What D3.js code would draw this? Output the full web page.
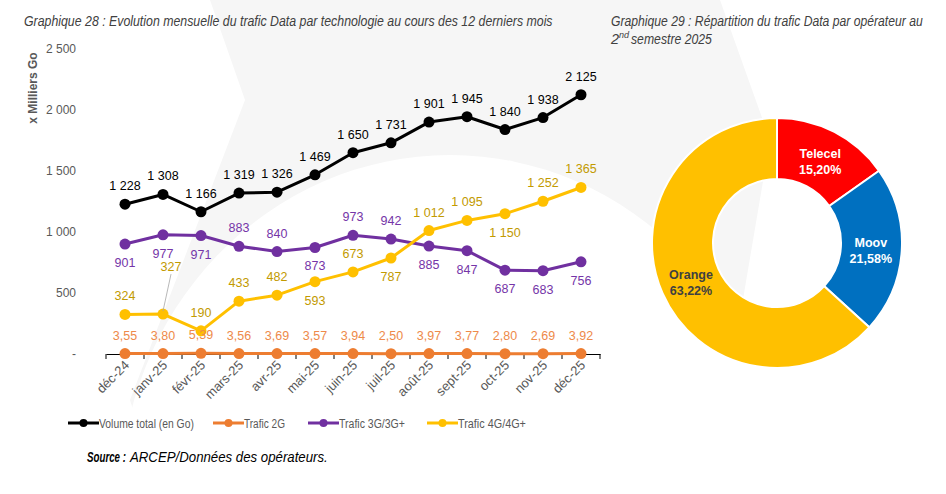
<!DOCTYPE html>
<html>
<head>
<meta charset="utf-8">
<script src="https://cdn.jsdelivr.net/npm/d3@7"></script>
<style>
  body { margin: 0; background: #fff; }
  svg { display: block; font-family: "Liberation Sans", Arial, sans-serif; }
</style>
</head>
<body>
<svg id="chart" width="946" height="494"></svg>
<script>
// data
var months = ["déc-24","janv-25","févr-25","mars-25","avr-25","mai-25","juin-25","juil-25","août-25","sept-25","oct-25","nov-25","déc-25"];
var volumeTotal = [1228,1308,1166,1319,1326,1469,1650,1731,1901,1945,1840,1938,2125];
var trafic2G = [3.55,3.80,5.39,3.56,3.69,3.57,3.94,2.50,3.97,3.77,2.80,2.69,3.92];
var trafic3G = [901,977,971,883,840,873,973,942,885,847,687,683,756];
var trafic4G = [324,327,190,433,482,593,673,787,1012,1095,1150,1252,1365];
var yTicks = [0,500,1000,1500,2000,2500];

// label side: 1 = above, -1 = below
var side3G = [-1,-1,-1,1,1,-1,1,1,-1,-1,-1,-1,-1];
var side4G = [1,1,1,1,1,-1,1,-1,1,1,-1,1,1];

var operators = ["Telecel","Moov","Orange"];
var shares = [15.20,21.58,63.22];

var svg = d3.select("#chart");

// the original uses a narrow font: squeeze a text horizontally to a given width
function squeeze(sel, w) {
    sel.each(function(d) {
        var width = typeof w === "function" ? w(d) : w;
        var k = width / this.getComputedTextLength();
        var tx = +this.getAttribute("x"), ty = +this.getAttribute("y");
        this.setAttribute("x", 0);
        this.setAttribute("y", 0);
        this.setAttribute("transform", "translate(" + tx + "," + ty + ") scale(" + k + ",1)");
    });
}

// faint background watermark
svg.append("path")
    .attr("d", "M210,0 L720,0 L770,140 L710,494 L160,494 L130,400 L245,100 Z")
    .attr("fill", "#f6f6f6");
svg.append("ellipse")
    .attr("cx", 450).attr("cy", 500).attr("rx", 330).attr("ry", 345)
    .attr("fill", "#fff");

// titles
var t1 = svg.append("text")
    .attr("x", 24).attr("y", 26)
    .attr("font-size", 14.5).attr("font-style", "italic").attr("fill", "#404040")
    .text("Graphique 28 : Evolution mensuelle du trafic Data par technologie au cours des 12 derniers mois");
squeeze(t1, 529);

var t2 = svg.append("g").attr("font-style", "italic").attr("fill", "#404040").attr("font-size", 14.5);
squeeze(t2.append("text").attr("x", 611).attr("y", 26)
    .text("Graphique 29 : Répartition du trafic Data par opérateur au"), 312);
t2.append("text").attr("x", 611).attr("y", 44).text("2");
t2.append("text").attr("x", 619).attr("y", 38).attr("font-size", 9).text("nd");
squeeze(t2.append("text").attr("x", 631).attr("y", 44).text("semestre 2025"), 81);

// scales
var x = d3.scaleBand().domain(months).range([106, 600]);
var y = d3.scaleLinear().domain([0, 2500]).range([354, 49]);
var cx = function(d, i) { return x(months[i]) + x.bandwidth() / 2; };

var fmt = function(v) { return d3.format(",d")(v).replace(/,/g, " "); };
var fmtDec = function(v) { return d3.format(".2f")(v).replace(".", ","); };

// y axis labels
svg.append("g").selectAll("text")
    .data(yTicks).enter().append("text")
    .attr("x", 76).attr("y", function(d) { return y(d) + 4; })
    .attr("text-anchor", "end").attr("font-size", 12).attr("fill", "#595959")
    .text(function(d) { return d === 0 ? "-" : fmt(d); });

svg.append("text")
    .attr("transform", "translate(37,88) rotate(-90)")
    .attr("text-anchor", "middle").attr("font-size", 12).attr("font-weight", "bold").attr("fill", "#595959")
    .text("x Milliers Go");

// x axis
var xAxis = d3.axisBottom(x).tickSize(0).tickFormat("");
var gx = svg.append("g").attr("transform", "translate(0," + y(0) + ")").call(xAxis);
gx.select(".domain").attr("stroke", "#000").attr("stroke-width", 1.2);
gx.selectAll(".sep").data(d3.range(months.length + 1)).enter().append("line")
    .attr("x1", function(i) { return 106 + i * x.step(); })
    .attr("x2", function(i) { return 106 + i * x.step(); })
    .attr("y1", 0).attr("y2", 5).attr("stroke", "#000");
svg.append("g").selectAll("text")
    .data(months).enter().append("text")
    .attr("transform", function(d) { return "translate(" + (x(d) + x.bandwidth() / 2 + 5) + "," + (y(0) + 12) + ") rotate(-45)"; })
    .attr("text-anchor", "end").attr("font-size", 13).attr("fill", "#595959")
    .text(function(d) { return d; });

var series = [
    { values: trafic2G, color: "#ED7D31" },
    { values: trafic3G, color: "#7030A0" },
    { values: trafic4G, color: "#FFC000" },
    { values: volumeTotal, color: "#000000" }
];

var line = d3.line()
    .x(cx)
    .y(function(d) { return y(d); });

series.forEach(function(s) {
    svg.append("path")
        .datum(s.values)
        .attr("d", line)
        .attr("fill", "none")
        .attr("stroke", s.color)
        .attr("stroke-width", 3)
        .attr("stroke-linejoin", "round");
    svg.append("g").selectAll("circle")
        .data(s.values).enter().append("circle")
        .attr("cx", cx)
        .attr("cy", function(d) { return y(d); })
        .attr("r", 5.5)
        .attr("fill", s.color);
});

// data labels
function addLabels(values, sides, color, format) {
    svg.append("g").selectAll("text")
        .data(values).enter().append("text")
        .attr("x", cx)
        .attr("y", function(d, i) { return sides[i] > 0 ? y(d) - 14 : y(d) + 23; })
        .attr("text-anchor", "middle").attr("font-size", 12.5).attr("fill", color)
        .text(format);
}
addLabels(volumeTotal, volumeTotal.map(function() { return 1; }), "#000", fmt);
addLabels(trafic3G, side3G, "#7535A8", fmt);
addLabels(trafic2G, trafic2G.map(function() { return 1; }), "#EE8A4A", fmtDec);

// 4G labels, second one pulled away with a leader line
var lab4 = svg.append("g");
lab4.selectAll("text")
    .data(trafic4G).enter().append("text")
    .attr("x", function(d, i) { return i === 1 ? cx(d, i) + 8 : cx(d, i); })
    .attr("y", function(d, i) {
        if (i === 1) return y(d) - 43;
        return side4G[i] > 0 ? y(d) - 14 : y(d) + 23;
    })
    .attr("text-anchor", "middle").attr("font-size", 12.5).attr("fill", "#C29A00")
    .text(fmt);
lab4.append("line")
    .attr("x1", cx(trafic4G[1], 1) + 8).attr("y1", y(trafic4G[1]) - 40)
    .attr("x2", cx(trafic4G[1], 1)).attr("y2", y(trafic4G[1]) - 3)
    .attr("stroke", "#a6a6a6").attr("stroke-width", 0.8);

// legend
var legendItems = [
    { name: "Volume total (en Go)", color: "#000000", x: 68, w: 95 },
    { name: "Trafic 2G", color: "#ED7D31", x: 213, w: 41 },
    { name: "Trafic 3G/3G+", color: "#7030A0", x: 308, w: 66 },
    { name: "Trafic 4G/4G+", color: "#FFC000", x: 427, w: 68 }
];
var lg = svg.append("g").selectAll("g").data(legendItems).enter().append("g")
    .attr("transform", function(d) { return "translate(" + d.x + ",423)"; });
lg.append("line").attr("x1", 0).attr("x2", 31).attr("stroke", function(d) { return d.color; }).attr("stroke-width", 3);
lg.append("circle").attr("cx", 15.5).attr("r", 4).attr("fill", function(d) { return d.color; });
squeeze(lg.append("text").attr("x", 31).attr("y", 4.5).attr("font-size", 13.5).attr("fill", "#595959")
    .text(function(d) { return d.name; }), function(d) { return d.w; });

// source
var src = svg.append("g").attr("font-size", 14).attr("font-style", "italic").attr("fill", "#000");
squeeze(src.append("text").attr("x", 87).attr("y", 462).attr("font-weight", "bold").text("Source :"), 39);
squeeze(src.append("text").attr("x", 130).attr("y", 462).text("ARCEP/Données des opérateurs."), 198);

// donut
var pieColors = d3.scaleOrdinal().domain(operators).range(["#FF0000", "#0070C0", "#FFC000"]);
var pie = d3.pie().value(function(d) { return d.v; }).sort(null);
var arc = d3.arc().innerRadius(64).outerRadius(125);
var labelArc = d3.arc().innerRadius(94).outerRadius(94);
var pieData = pie(operators.map(function(o, i) { return { name: o, v: shares[i] }; }));

var donut = svg.append("g").attr("transform", "translate(777,243)");
donut.selectAll("path").data(pieData).enter().append("path")
    .attr("d", arc)
    .attr("fill", function(d) { return pieColors(d.data.name); })
    .attr("stroke", "#fff").attr("stroke-width", 2);

var pl = donut.selectAll("text").data(pieData).enter().append("text")
    .attr("transform", function(d) { return "translate(" + labelArc.centroid(d) + ")"; })
    .attr("text-anchor", "middle").attr("font-size", 12.5).attr("font-weight", "bold")
    .attr("fill", function(d) { return d.data.name === "Orange" ? "#404040" : "#fff"; });
pl.append("tspan").attr("x", 0).attr("dy", -2).text(function(d) { return d.data.name; });
pl.append("tspan").attr("x", 0).attr("dy", 16).text(function(d) { return fmtDec(d.data.v) + "%"; });
</script>
</body>
</html>
